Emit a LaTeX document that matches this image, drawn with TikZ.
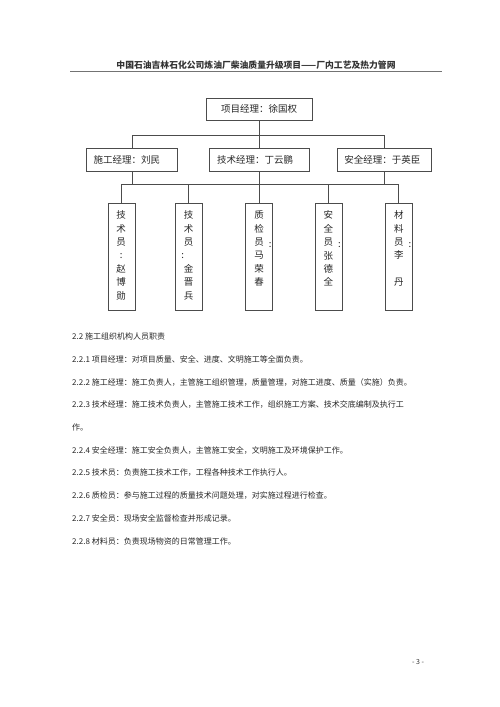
\documentclass[tikz,border=0pt]{standalone}
\usepackage{fontspec}
\setmainfont{Noto Sans CJK SC}
\usetikzlibrary{positioning}
\tikzset{
  mgr/.style={draw=black!70, inner xsep=7pt, inner ysep=0pt, minimum height=23pt, align=left, font=\fontsize{9.5}{11}\selectfont, text=black!85},
  boss/.style={mgr, minimum width=106pt, minimum height=22pt, align=center, inner xsep=0pt},
  staff/.style={draw=black!70, inner sep=0pt, minimum width=27pt, minimum height=107pt, text=black!85},
  link/.style={draw=black!70, line width=0.7pt},
  para/.style={anchor=west, inner sep=0pt, font=\fontsize{8}{10}\selectfont, text=black!85},
}
\newcommand\colstack[1]{\parbox[c][91pt][t]{20pt}{\fontsize{9.5}{13.4}\selectfont\centering #1\par}}
\newcommand\sidecolon{\rlap{\hspace{5pt}\raisebox{-2pt}{:}}}
\newcommand\leftcolon{\leavevmode\llap{:\hspace{4.5pt}}}
\begin{document}
\begin{tikzpicture}[x=1pt, y=-1pt]
\useasboundingbox (0,0) rectangle (500,707);
% page header
\node[font=\fontsize{8.8}{10}\selectfont\bfseries, text=black!80] (hdr) at (256,65) {中国石油吉林石化公司炼油厂柴油质量升级项目——厂内工艺及热力管网};
\draw[black!55, line width=1pt] (70,71) -- (442,71);
% organisation chart
\node[boss] (pm) at (259,109) {项目经理：徐国权};
\node[mgr, inner xsep=8pt, text width=84pt, below=28pt of pm] (tm) {技术经理：丁云鹏};
\node[mgr, text width=77pt, left=31pt of tm] (cm) {施工经理：刘民};
\node[mgr, text width=80pt, right=28pt of tm] (sm) {安全经理：于英臣};
\node[staff, below=31pt of tm] (qc) {\colstack{质\\检\\员\sidecolon\\马\\荣\\春}};
\node[staff, left=43pt of qc] (te2) {\colstack{技\\术\\员\\\leftcolon\\金\\晋\\兵}};
\node[staff, left=40pt of te2] (te1) {\colstack{技\\术\\员\\:\\赵\\博\\勋}};
\node[staff, right=42pt of qc] (sf) {\colstack{安\\全\\员\sidecolon\\张\\德\\全}};
\node[staff, right=43pt of sf] (mt) {\colstack{材\\料\\员\sidecolon\\李\\\mbox{}\\丹}};
\coordinate[below=15pt of pm.south] (bus1);
\coordinate[below=13pt of tm.south] (bus2);
\draw[link] (pm.south) -- (pm.south |- tm.north);
\draw[link] (cm.north) |- (bus1) -| (sm.north);
\draw[link] (tm.south) -- (tm.south |- qc.north);
\draw[link] (te1.north) |- (bus2) -| (mt.north);
\draw[link] (cm.south) -- (cm.south |- bus2);
\draw[link] (sm.south) -- (sm.south |- bus2);
\draw[link] (te2.north) -- (te2.north |- bus2);
\draw[link] (sf.north) -- (sf.north |- bus2);
% duties
\node[para] (d0) at (72,336) {2.2 施工组织机构人员职责};
\node[para] (d1) at (72,359) {2.2.1 项目经理：对项目质量、安全、进度、文明施工等全面负责。};
\node[para] (d2) at (72,382) {2.2.2 施工经理：施工负责人，主管施工组织管理，质量管理，对施工进度、质量（实施）负责。};
\node[para] (d3) at (72,405) {2.2.3 技术经理：施工技术负责人，主管施工技术工作，组织施工方案、技术交底编制及执行工};
\node[para] (d3b) at (72,427) {作。};
\node[para] (d4) at (72,451) {2.2.4 安全经理：施工安全负责人，主管施工安全，文明施工及环境保护工作。};
\node[para] (d5) at (72,473) {2.2.5 技术员：负责施工技术工作，工程各种技术工作执行人。};
\node[para] (d6) at (72,496) {2.2.6 质检员：参与施工过程的质量技术问题处理，对实施过程进行检查。};
\node[para] (d7) at (72,518) {2.2.7 安全员：现场安全监督检查并形成记录。};
\node[para] (d8) at (72,541) {2.2.8 材料员：负责现场物资的日常管理工作。};
% page number
\node[font=\fontsize{7}{8}\selectfont, text=black!80] (pg) at (418,662) {- 3 -};
\end{tikzpicture}
\end{document}
